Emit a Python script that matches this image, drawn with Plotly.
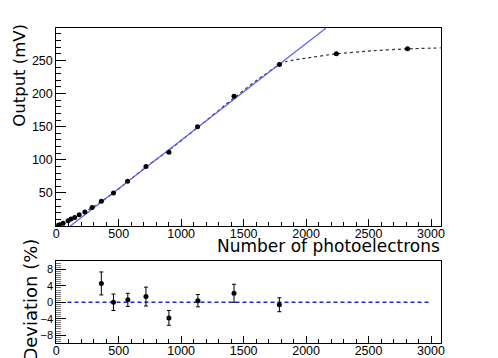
import plotly.graph_objects as go

# ---- data ----
pe = [8, 26, 55, 95, 118, 148, 184, 229, 287, 361, 458, 571, 718, 902, 1131, 1423, 1786, 2242, 2812]
out_mv = [0.5, 2, 4, 8, 10.5, 13, 17, 21, 28, 37.5, 49.7, 67.4, 90, 111.5, 150, 196, 244, 260, 267.5]
out_err = [0.8, 0.8, 0.8, 0.8, 0.8, 0.8, 0.8, 0.8, 1, 1, 1.2, 1.5, 1.5, 2, 2, 3, 3, 3, 3]
pe_err = [0, 0, 0, 0, 0, 0, 0, 0, 0, 0, 0, 0, 0, 0, 0, 0, 20, 20, 20]

fit_pe = [113, 2160]
fit_mv = [0, 299]

curve_pe = [0, 100, 200, 300, 460, 720, 900, 1130, 1420, 1600, 1786, 1836, 1900, 2000, 2242, 2520, 2812, 3080]
curve_mv = [0, 8, 18, 29.5, 50, 89.5, 114, 148.5, 193, 219.5, 243.5, 248, 250.5, 253.5, 260, 264.5, 267.5, 269]

dev_pe = [361, 458, 573, 718, 902, 1134, 1423, 1786]
dev_pct = [4.6, 0.0, 0.6, 1.4, -3.8, 0.4, 2.2, -0.6]
dev_err = [2.8, 2.0, 1.6, 2.3, 1.8, 1.5, 2.2, 1.7]

ref_pe = [90, 3000]
ref_pct = [0, 0]

x_ticks = [0, 500, 1000, 1500, 2000, 2500, 3000]
x_minor = list(range(0, 3100, 100))
y_ticks = [50, 100, 150, 200, 250]
y_minor = list(range(10, 300, 10))
dev_ticks = [-8, -4, 0, 4, 8]
dev_minor = [v / 2 for v in range(-20, 21)]

W, H = 498, 358
XL, XR = 54, 444
TOP_T, TOP_B = 28, 226
BOT_T, BOT_B = 261.3, 343.3

tickfont = dict(family="Liberation Sans", size=12.5, color="black")
titlefont = dict(family="DejaVu Sans", size=17, color="black")

fig = go.Figure()

fig.add_trace(go.Scatter(x=curve_pe, y=curve_mv, mode="lines", line=dict(color="#333333", width=1.2, dash="3px,3px", shape="spline", smoothing=0.6), xaxis="x", yaxis="y", showlegend=False, hoverinfo="skip"))
fig.add_trace(go.Scatter(x=fit_pe, y=fit_mv, mode="lines", line=dict(color="#5a5aff", width=1.2), xaxis="x", yaxis="y", showlegend=False, cliponaxis=True))
fig.add_trace(go.Scatter(x=pe, y=out_mv, mode="markers", marker=dict(color="black", size=5),
                         error_y=dict(type="data", array=out_err, color="black", thickness=1, width=0),
                         error_x=dict(type="data", array=pe_err, color="black", thickness=1, width=0),
                         xaxis="x", yaxis="y", showlegend=False))

fig.add_trace(go.Scatter(x=ref_pe, y=ref_pct, mode="lines", line=dict(color="#2020ff", width=1.5, dash="4px,3px"), xaxis="x2", yaxis="y2", showlegend=False))
fig.add_trace(go.Scatter(x=dev_pe, y=dev_pct, mode="markers", marker=dict(color="black", size=5),
                         error_y=dict(type="data", array=dev_err, color="black", thickness=1, width=2),
                         xaxis="x2", yaxis="y2", showlegend=False))

common_x = dict(range=[0, 3078], tickmode="array", tickvals=x_ticks, ticks="inside", ticklen=7, tickcolor="black",
                minor=dict(tickmode="array", tickvals=x_minor, ticks="inside", ticklen=4, tickcolor="black"),
                showline=True, mirror=True, linecolor="black", linewidth=1, showgrid=False, zeroline=False,
                tickfont=tickfont, domain=[XL / W, XR / W], ticklabelstandoff=-4)

fig.update_layout(
    width=W, height=H, margin=dict(l=0, r=0, t=0, b=0),
    paper_bgcolor="white", plot_bgcolor="white",
    xaxis=dict(anchor="y", **common_x),
    xaxis2=dict(anchor="y2", matches="x", **common_x),
    yaxis=dict(anchor="x", domain=[1 - TOP_B / H, 1 - TOP_T / H], range=[0, 299], tickmode="array", tickvals=y_ticks,
               ticks="inside", ticklen=10, tickcolor="black",
               minor=dict(tickmode="array", tickvals=y_minor, ticks="inside", ticklen=5, tickcolor="black"),
               showline=True, mirror=True, linecolor="black", linewidth=1, showgrid=False, zeroline=False,
               tickfont=tickfont, ticklabelstandoff=0),
    yaxis2=dict(anchor="x2", domain=[1 - BOT_B / H, 1 - BOT_T / H], range=[-10, 10], tickmode="array", tickvals=dev_ticks,
                ticks="inside", ticklen=10, tickcolor="black",
                minor=dict(tickmode="array", tickvals=dev_minor, ticks="inside", ticklen=5, tickcolor="#777777"),
                showline=True, mirror=True, linecolor="black", linewidth=1, showgrid=False, zeroline=False,
                tickfont=dict(family="Liberation Sans", size=11, color="black"), ticklabelstandoff=0),
    annotations=[
        dict(text="Number of photoelectrons", x=(XR + 1) / W, y=1 - 245.5 / H, xref="paper", yref="paper",
             xanchor="right", yanchor="middle", showarrow=False, font=titlefont),
        dict(text="Output (mV)", x=17 / W, y=1 - 75 / H, xref="paper", yref="paper", textangle=-90,
             xanchor="center", yanchor="middle", showarrow=False, font=dict(family="DejaVu Sans", size=16.5, color="black")),
        dict(text="Deviation (%)", x=27 / W, y=1 - 300 / H, xref="paper", yref="paper", textangle=-90,
             xanchor="center", yanchor="middle", showarrow=False, font=dict(family="DejaVu Sans", size=18, color="black")),
    ],
)

fig.write_html("out.html", config={"displayModeBar": False},
               post_script="document.body.style.margin='0';document.body.style.overflow='hidden';")
